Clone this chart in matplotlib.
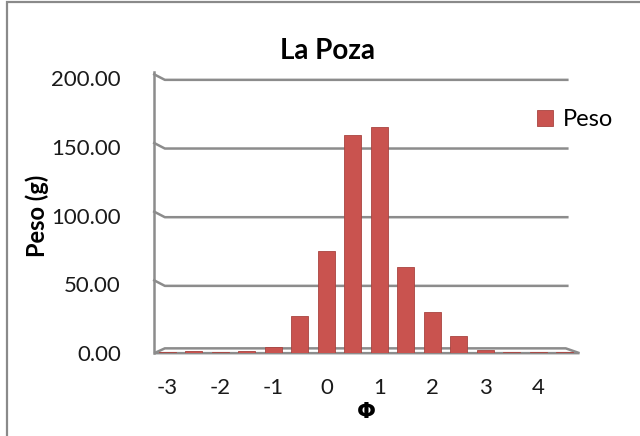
import matplotlib.pyplot as plt
from matplotlib.patches import Rectangle, Polygon

# Datos: clases phi y peso retenido (g)
phi = [-3, -2.5, -2, -1.5, -1, -0.5, 0, 0.5, 1, 1.5, 2, 2.5, 3, 3.5, 4, 4.5]
peso = [0.8, 1.5, 1.0, 1.5, 4.5, 27.0, 74.5, 159.0, 165.0, 62.5, 30.0, 12.5, 2.5, 1.0, 1.0, 1.0]
tick_vals = [-3, -2, -1, 0, 1, 2, 3, 4]
y_ticks = [0, 50, 100, 150, 200]

bar_color = '#C9534F'
grid_color = '#8C8C8C'

plt.rcParams['font.family'] = ['Lato', 'DejaVu Sans']

fig = plt.figure(figsize=(6.4, 4.36), dpi=100)
ax = fig.add_axes([0.241, 0.19, 0.662, 0.63])

# marco del grafico (recortado a la derecha y abajo)
fig.patches.append(Rectangle((0.011, -0.1), 1.2, 1.095, transform=fig.transFigure,
                             fill=False, edgecolor='#8A8A8A', linewidth=1.6))

# lineas de division
for v in y_ticks[1:]:
    ax.plot([-3.25, -3.05, 4.55], [v + 3, v - 1, v - 1], color=grid_color, lw=1.8,
            zorder=1, clip_on=False)

# suelo 3D
ax.add_patch(Polygon([[-3.25, 0], [-3.05, 3.5], [4.52, 3.5], [4.78, 0]],
                     closed=True, facecolor='white', edgecolor=grid_color, lw=1.8,
                     zorder=1, clip_on=False))

ax.bar(phi, peso, width=0.32, color=bar_color, edgecolor='#A94440', linewidth=0.6,
       zorder=3, label='Peso')

ax.set_xlim(-3.25, 4.75)
ax.set_ylim(0, 200)
ax.set_xticks(tick_vals)
ax.set_xticklabels([str(t) for t in tick_vals])
ax.set_yticks(y_ticks)
ax.set_yticklabels(['%.2f' % v for v in y_ticks])
ax.tick_params(axis='both', length=0, labelsize=16, colors='#1a1a1a')
ax.tick_params(axis='y', pad=24)
ax.tick_params(axis='x', pad=18)

for s in ['top', 'right', 'bottom']:
    ax.spines[s].set_visible(False)
ax.spines['left'].set_color(grid_color)
ax.spines['left'].set_linewidth(1.8)
ax.spines['left'].set_bounds(0, 205)

ax.set_title('La Poza', fontsize=20, fontweight='bold', pad=14, x=0.41)
ax.set_xlabel('Φ', fontsize=16, fontweight='bold', labelpad=3, family=['DejaVu Sans'])
ax.set_ylabel('Peso (g)', fontsize=17, fontweight='bold', labelpad=2)

ax.legend(loc='upper left', bbox_to_anchor=(0.82, 0.776), bbox_transform=fig.transFigure,
          frameon=False, fontsize=17, handlelength=0.7, handleheight=0.7,
          handletextpad=0.4, borderpad=0)

fig.savefig('out.png', dpi=100)
